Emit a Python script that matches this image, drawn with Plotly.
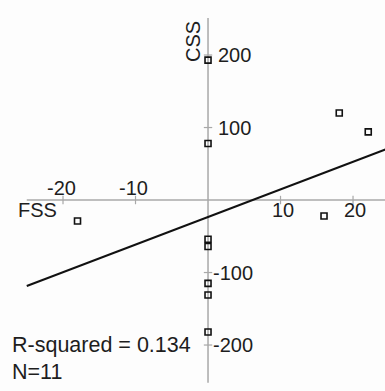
import numpy as np
import plotly.graph_objects as go

# Data
fss = [0.0, 0.0, 18.1, 22.1, -18.0, 16.0, 0.0, 0.0, 0.0, 0.0, 0.0]
css = [193, 78, 120, 94, -29, -22, -54, -64, -115, -131, -182]

x_ticks = [-20, -10, 10, 20]
y_ticks = [-200, -100, 100, 200]
x_title = "FSS"
y_title = "CSS"
r2_label = "R-squared = 0.134"
n_label = "N=%d" % len(fss)

x_range = [-28.69, 24.41]
y_range = [-263.4, 275.9]
x_axis_extent = [-25.0, 25.0]
y_axis_extent = [-252.0, 251.0]

slope, intercept = np.polyfit(fss, css, 1)
line_x = np.array(x_axis_extent)
line_y = slope * line_x + intercept

FONT = "Liberation Sans, Arial, sans-serif"
AX_COL = "#a8a8a8"
TXT_COL = "#1e1e1e"
PT_COL = "#111111"

fig = go.Figure()

# axis ticks
fig.add_trace(go.Scatter(x=x_ticks, y=[0] * len(x_ticks), mode="markers",
                         marker=dict(symbol="line-ns-open", size=6, color=AX_COL,
                                     line=dict(color=AX_COL, width=1.2)),
                         hoverinfo="skip", showlegend=False))
fig.add_trace(go.Scatter(x=[0] * len(y_ticks), y=y_ticks, mode="markers",
                         marker=dict(symbol="line-ew-open", size=6, color=AX_COL,
                                     line=dict(color=AX_COL, width=1.2)),
                         hoverinfo="skip", showlegend=False))

# regression line
fig.add_trace(go.Scatter(x=line_x, y=line_y, mode="lines",
                         line=dict(color=PT_COL, width=2),
                         hoverinfo="skip", showlegend=False))

# data points
fig.add_trace(go.Scatter(x=fss, y=css, mode="markers",
                         marker=dict(symbol="square-open", size=6, color=PT_COL,
                                     line=dict(color=PT_COL, width=1.6)),
                         showlegend=False))

shapes = [
    dict(type="line", xref="x", yref="y", x0=0, x1=0,
         y0=y_axis_extent[0], y1=y_axis_extent[1],
         line=dict(color=AX_COL, width=1.5), layer="below"),
    dict(type="line", xref="x", yref="y", y0=0, y1=0,
         x0=x_axis_extent[0], x1=x_axis_extent[1],
         line=dict(color=AX_COL, width=1.5), layer="below"),
]

ann = []
fnt = dict(family=FONT, size=20, color=TXT_COL)
for t in x_ticks:
    ann.append(dict(x=t, y=0, xref="x", yref="y", text=str(t), showarrow=False,
                    xanchor="center", yanchor="middle",
                    yshift=12 if t < 0 else -10, xshift=-2 if t < 0 else 2,
                    font=fnt))
for t in y_ticks:
    ann.append(dict(x=0, y=t, xref="x", yref="y", text=str(t), showarrow=False,
                    xanchor="left", yanchor="middle",
                    xshift=8 if t > 0 else 3, font=fnt))
ann.append(dict(x=x_axis_extent[0], y=0, xref="x", yref="y", text=x_title,
                showarrow=False, xanchor="left", yanchor="middle",
                xshift=-11, yshift=-10, font=fnt))
ann.append(dict(x=0, y=218, xref="x", yref="y", text=y_title, showarrow=False,
                textangle=-90, xanchor="center", yanchor="middle",
                xshift=-15, font=fnt))
ann.append(dict(x=13 / 385, y=1 - 345 / 391, xref="paper", yref="paper",
                text=r2_label, showarrow=False, xanchor="left", yanchor="middle",
                xshift=-3, font=dict(family=FONT, size=21.5, color=TXT_COL)))
ann.append(dict(x=13 / 385, y=1 - 371.5 / 391, xref="paper", yref="paper",
                text=n_label, showarrow=False, xanchor="left", yanchor="middle",
                xshift=-3, font=dict(family=FONT, size=21.5, color=TXT_COL)))

fig.update_layout(
    width=385, height=391,
    margin=dict(l=0, r=0, t=0, b=0),
    paper_bgcolor="#fdfdfd", plot_bgcolor="#fdfdfd",
    xaxis=dict(range=x_range, visible=False, showgrid=False, zeroline=False),
    yaxis=dict(range=y_range, visible=False, showgrid=False, zeroline=False),
    shapes=shapes, annotations=ann,
)

fig.write_html("out.html")
